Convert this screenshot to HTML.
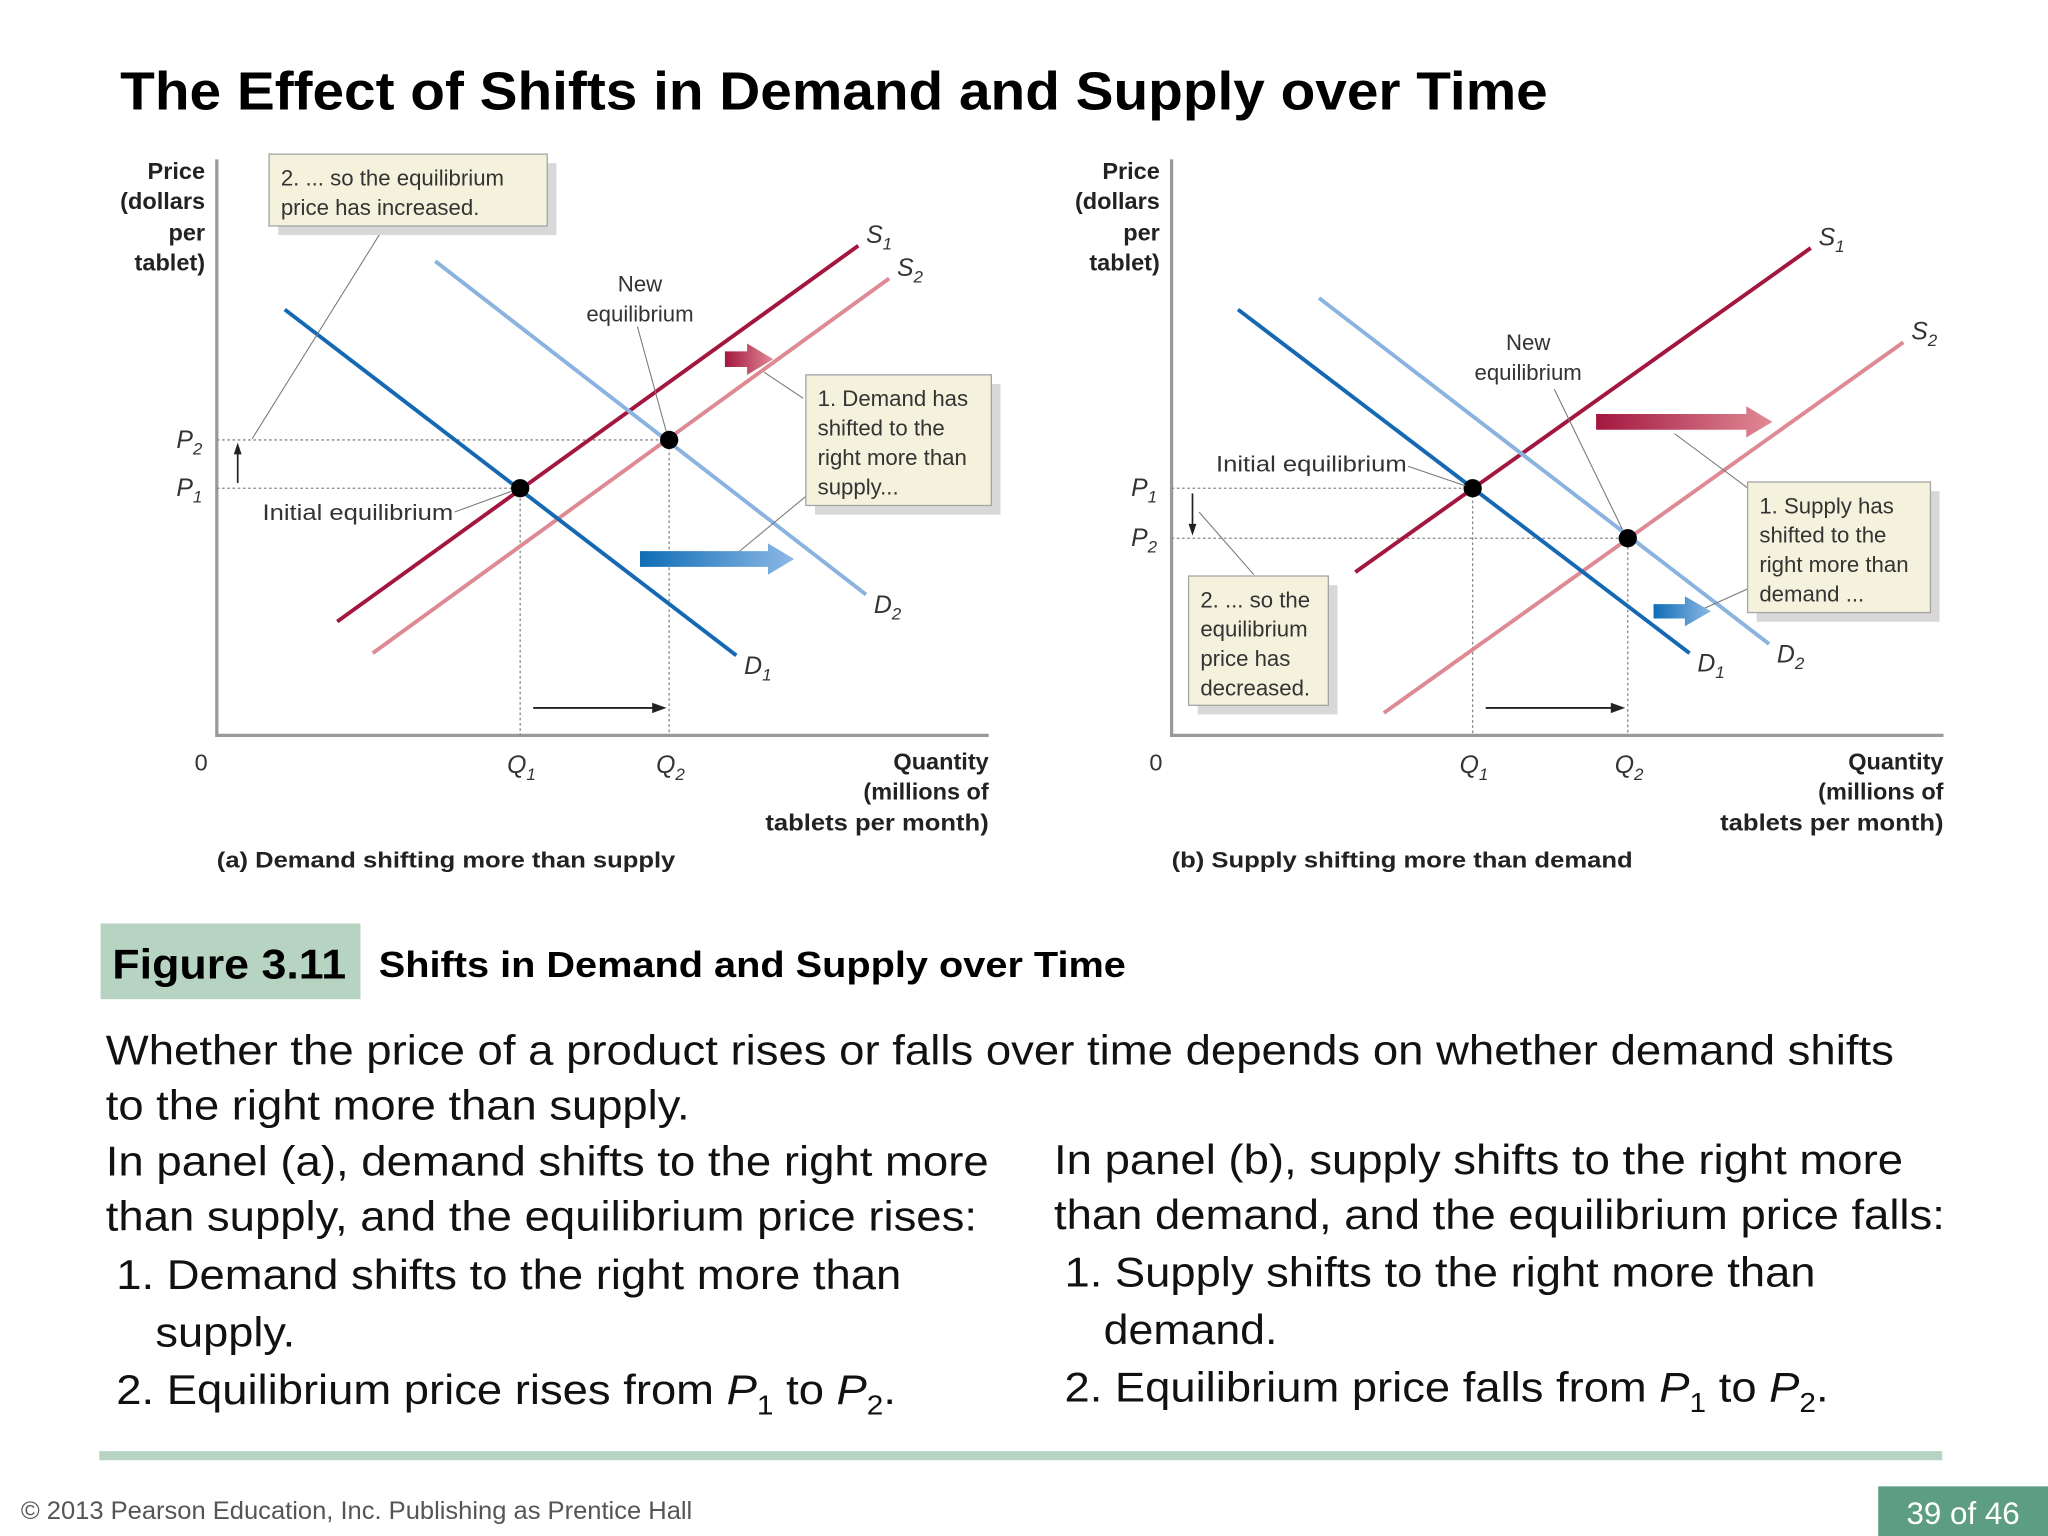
<!DOCTYPE html>
<html><head><meta charset="utf-8"><style>
html,body{margin:0;padding:0;background:#fff;}
svg{display:block;}
text{font-family:"Liberation Sans",sans-serif;}
</style></head><body>
<svg id="s" width="2048" height="1536" viewBox="0 0 1568 1176" xmlns="http://www.w3.org/2000/svg">
<defs>
<linearGradient id="gr" x1="0" x2="1"><stop offset="0" stop-color="#a3173f"/><stop offset="1" stop-color="#e08a96"/></linearGradient>
<linearGradient id="gb" x1="0" x2="1"><stop offset="0" stop-color="#0f6db5"/><stop offset="1" stop-color="#8db8e6"/></linearGradient>
</defs>
<text x="92" y="84" font-size="41" font-weight="bold" fill="#000" textLength="1093" lengthAdjust="spacingAndGlyphs">The Effect of Shifts in Demand and Supply over Time</text>
<g id="chartA"></g>
<g id="chartB"></g>

<rect x="77" y="707" width="199" height="58" fill="#b7d4c2"/>
<text x="86" y="749" font-size="32" font-weight="bold" textLength="179" lengthAdjust="spacingAndGlyphs">Figure 3.11</text>
<text x="290" y="748" font-size="28" font-weight="bold" textLength="572" lengthAdjust="spacingAndGlyphs">Shifts in Demand and Supply over Time</text>
<g font-size="32" fill="#111">
<text x="81" y="815" textLength="1369" lengthAdjust="spacingAndGlyphs">Whether the price of a product rises or falls over time depends on whether demand shifts</text>
<text x="81" y="857" textLength="447" lengthAdjust="spacingAndGlyphs">to the right more than supply.</text>
<text x="81" y="900" textLength="676" lengthAdjust="spacingAndGlyphs">In panel (a), demand shifts to the right more</text>
<text x="81" y="942" textLength="667" lengthAdjust="spacingAndGlyphs">than supply, and the equilibrium price rises:</text>
<text x="89" y="987" textLength="601" lengthAdjust="spacingAndGlyphs">1. Demand shifts to the right more than</text>
<text x="119" y="1031" textLength="107" lengthAdjust="spacingAndGlyphs">supply.</text>
<text x="89" y="1075" textLength="597" lengthAdjust="spacingAndGlyphs">2. Equilibrium price rises from <tspan font-style="italic">P</tspan><tspan font-size="21" dy="8">1</tspan><tspan dy="-8"> to </tspan><tspan font-style="italic">P</tspan><tspan font-size="21" dy="8">2</tspan><tspan dy="-8">.</tspan></text>
<text x="807" y="899" textLength="650" lengthAdjust="spacingAndGlyphs">In panel (b), supply shifts to the right more</text>
<text x="807" y="941" textLength="682" lengthAdjust="spacingAndGlyphs">than demand, and the equilibrium price falls:</text>
<text x="815" y="985" textLength="575" lengthAdjust="spacingAndGlyphs">1. Supply shifts to the right more than</text>
<text x="845" y="1029" textLength="133" lengthAdjust="spacingAndGlyphs">demand.</text>
<text x="815" y="1073" textLength="585" lengthAdjust="spacingAndGlyphs">2. Equilibrium price falls from <tspan font-style="italic">P</tspan><tspan font-size="21" dy="8">1</tspan><tspan dy="-8"> to </tspan><tspan font-style="italic">P</tspan><tspan font-size="21" dy="8">2</tspan><tspan dy="-8">.</tspan></text>
</g>
<rect x="76" y="1111" width="1411" height="7" fill="#b7d4c2"/>
<text x="16" y="1163" font-size="19" fill="#555" textLength="514" lengthAdjust="spacingAndGlyphs">© 2013 Pearson Education, Inc. Publishing as Prentice Hall</text>
<rect x="1438" y="1138" width="130" height="38" fill="#5d9d84"/>
<text x="1503" y="1167" font-size="24" fill="#fff" text-anchor="middle">39 of 46</text>
</svg>
<script>
// Panel A data (abstract units 0-10)
const aD1=[[0.88,7.41],[6.73,1.39]];
const aD2=[[2.83,8.25],[8.41,2.45]];
const aS1=[[1.56,1.98],[8.31,8.52]];
const aS2=[[2.02,1.43],[8.71,7.95]];
const aEq=[[3.93,4.30],[5.86,5.14]];
// Panel B data
const bD1=[[0.86,7.41],[6.71,1.43]];
const bD2=[[1.91,7.61],[7.74,1.59]];
const bS1=[[2.38,2.84],[8.28,8.48]];
const bS2=[[2.75,0.39],[9.48,6.84]];
const bEq=[[3.90,4.30],[5.91,3.43]];
const NS="http://www.w3.org/2000/svg";
function mk(p,tag,at){const e=document.createElementNS(NS,tag);for(const k in at)e.setAttribute(k,at[k]);p.appendChild(e);return e;}
function tx(p,x,y,s,at){const e=mk(p,'text',Object.assign({x:x,y:y},at||{}));e.innerHTML=s;return e;}
function panel(g,ox,D1,D2,S1,S2,EQ,isA){
  const X=v=>ox+v*59.1, Y=v=>563-v*44;
  const ax=mk(g,'path',{d:`M${ox} 122 V${563} H${ox+591}`,stroke:'#999',fill:'none','stroke-width':2.5});
  
  
  EQ.forEach((e,i)=>{
    const l=mk(g,'path',{d:`M${ox} ${Y(e[1])} H${X(e[0])} V563`,stroke:'#888','stroke-dasharray':'2 2',fill:'none','stroke-width':1});
    
    
  });
  const lines=[[S1,'#a3173f','supply-s1'],[S2,'#de8a94','supply-s2'],[D2,'#8bb3e0','demand-d2'],[D1,'#1569b3','demand-d1']];
  lines.forEach(([L,c,n])=>{
    const l=mk(g,'line',{x1:X(L[0][0]),y1:Y(L[0][1]),x2:X(L[1][0]),y2:Y(L[1][1]),stroke:c,'stroke-width':3});
    
    
  });
  EQ.forEach((e,i)=>{
    const c=mk(g,'circle',{cx:X(e[0]),cy:Y(e[1]),r:7,fill:'#000'});
    
    
  });
  const it={'font-style':'italic','font-size':19,fill:'#333'};
  const sub=(x,y,L,n)=>tx(g,x,y,L+`<tspan font-size="13" dy="5">${n}</tspan>`,it);
  sub(X(S1[1][0])+6,Y(S1[1][1])-2,'S','1');
  sub(X(S2[1][0])+6,Y(S2[1][1])-2,'S','2');
  sub(X(D1[1][0])+6,Y(D1[1][1])+14,'D','1');
  sub(X(D2[1][0])+6,Y(D2[1][1])+14,'D','2');
  sub(X(EQ[0][0])-10,592,'Q','1');
  sub(X(EQ[1][0])-10,592,'Q','2');
  sub(ox-31,Y(isA?EQ[1][1]:EQ[0][1])+6,'P',isA?'2':'1');
  sub(ox-31,Y(isA?EQ[0][1]:EQ[1][1])+6,'P',isA?'1':'2');
  tx(g,ox-17,590,'0',{'font-size':18,fill:'#333'});
  const bold={'font-size':18,'font-weight':'bold',fill:'#222','text-anchor':'end'};
  tx(g,ox-9,137,'Price',bold);tx(g,ox-9,160,'(dollars',bold);tx(g,ox-9,184,'per',bold);tx(g,ox-9,207,'tablet)',bold);
  tx(g,ox+591,589,'Quantity',bold);tx(g,ox+591,612,'(millions of',bold);
  const t=tx(g,ox+420,636,'tablets per month)',Object.assign({},bold,{'text-anchor':'start',textLength:171,lengthAdjust:'spacingAndGlyphs'}));
  mk(g,'path',{d:`M${X(EQ[0][0])+10} 542 H${X(EQ[1][0])-6}`,stroke:'#222','stroke-width':1.5});
  mk(g,'path',{d:`M${X(EQ[1][0])-2} 542 l-11 -4 v8z`,fill:'#222'});
  const ya=Y(EQ[0][1]), yb=Y(EQ[1][1]);
  mk(g,'path',{d:`M${ox+16} ${ya+(isA?-4:4)} V${yb+(isA?8:-8)}`,stroke:'#222','stroke-width':1.3});
  mk(g,'path',{d:isA?`M${ox+16} ${yb+2} l-3 9 h6z`:`M${ox+16} ${yb-2} l-3 -9 h6z`,fill:'#222'});
}
function box(g,x,y,w,h,lines,name){
  const b=mk(g,'g',{});
  
  
  mk(b,'rect',{x:x+7,y:y+7,width:w,height:h,fill:'#d8d8d8'});
  mk(b,'rect',{x:x,y:y,width:w,height:h,fill:'#f4f2dc',stroke:'#a5a5a5'});
  lines.forEach((s,i)=>tx(b,x+9,y+24+i*22.5,s,{'font-size':17,fill:'#333'}));
}
function arrow(g,x1,x2,y,h,grad,name){
  const a=mk(g,'path',{d:`M${x1} ${y-h/2} H${x2-20} V${y-h/2-6} L${x2} ${y} L${x2-20} ${y+h/2+6} V${y+h/2} H${x1}z`,fill:grad});
  
  
}
const ga=document.getElementById('chartA'), gb2=document.getElementById('chartB');
panel(ga,166,aD1,aD2,aS1,aS2,aEq,true);
panel(gb2,897,bD1,bD2,bS1,bS2,bEq,false);
const thin={stroke:'#777','stroke-width':0.8,fill:'none'};
mk(ga,'path',Object.assign({d:'M294 174 L193 336'},thin));
mk(ga,'path',Object.assign({d:'M488 250 L510 330'},thin));
mk(ga,'path',Object.assign({d:'M348 392 L392 376'},thin));
mk(ga,'path',Object.assign({d:'M615 305 L585 285 M617 380 L565 423'},thin));
box(ga,206,118,213,55,['2. ... so the equilibrium','price has increased.'],'annotation-price-increased');
box(ga,617,287,142,100,['1. Demand has','shifted to the','right more than','supply...'],'annotation-demand-shifted');
tx(ga,490,223,'New',{'font-size':17,fill:'#333','text-anchor':'middle'});
tx(ga,490,246,'equilibrium',{'font-size':17,fill:'#333','text-anchor':'middle'});
tx(ga,201,398,'Initial equilibrium',{'font-size':17,fill:'#333',textLength:146,lengthAdjust:'spacingAndGlyphs'});
arrow(ga,555,592,275,12,'url(#gr)','supply-shift-arrow');
arrow(ga,490,608,428,12,'url(#gb)','demand-shift-arrow');
tx(ga,166,664,'(a) Demand shifting more than supply',{'font-size':17,'font-weight':'bold',fill:'#222',textLength:351,lengthAdjust:'spacingAndGlyphs'});
mk(gb2,'path',Object.assign({d:'M1078 357 L1122 372'},thin));
mk(gb2,'path',Object.assign({d:'M1190 298 L1242 405'},thin));
mk(gb2,'path',Object.assign({d:'M1282 332 L1340 375 M1340 450 L1300 468'},thin));
mk(gb2,'path',Object.assign({d:'M918 392 L960 440'},thin));
box(gb2,1338,369,140,100,['1. Supply has','shifted to the','right more than','demand ...'],'annotation-supply-shifted');
box(gb2,910,441,107,99,['2. ... so the','equilibrium','price has','decreased.'],'annotation-price-decreased');
tx(gb2,1170,268,'New',{'font-size':17,fill:'#333','text-anchor':'middle'});
tx(gb2,1170,291,'equilibrium',{'font-size':17,fill:'#333','text-anchor':'middle'});
tx(gb2,931,361,'Initial equilibrium',{'font-size':17,fill:'#333',textLength:146,lengthAdjust:'spacingAndGlyphs'});
arrow(gb2,1222,1357,323,12,'url(#gr)','supply-shift-arrow');
arrow(gb2,1266,1310,468,11,'url(#gb)','demand-shift-arrow');
tx(gb2,897,664,'(b) Supply shifting more than demand',{'font-size':17,'font-weight':'bold',fill:'#222',textLength:353,lengthAdjust:'spacingAndGlyphs'});
</script>
</body></html>
